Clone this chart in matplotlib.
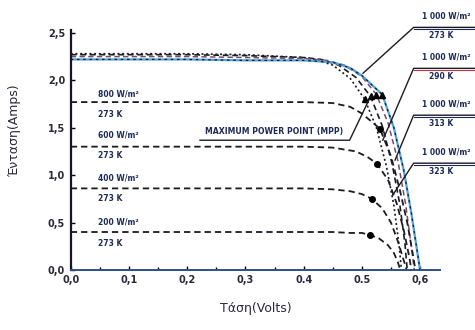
import matplotlib.pyplot as plt

# I-V curves, 1000 W/m2 at different temperatures
v_1000_273 = [0.0, 0.1, 0.2, 0.3, 0.4, 0.45, 0.48, 0.50, 0.535, 0.555, 0.572, 0.585, 0.595, 0.600]
i_1000_273 = [2.22, 2.22, 2.22, 2.21, 2.21, 2.19, 2.13, 2.05, 1.85, 1.50, 1.05, 0.60, 0.20, 0.0]
v_1000_290 = [0.0, 0.1, 0.2, 0.3, 0.4, 0.44, 0.47, 0.50, 0.525, 0.545, 0.562, 0.575, 0.585, 0.590]
i_1000_290 = [2.25, 2.25, 2.25, 2.24, 2.23, 2.21, 2.16, 2.04, 1.85, 1.55, 1.15, 0.70, 0.25, 0.0]
v_1000_313 = [0.0, 0.1, 0.2, 0.3, 0.4, 0.43, 0.46, 0.49, 0.515, 0.535, 0.552, 0.565, 0.574, 0.578]
i_1000_313 = [2.27, 2.27, 2.27, 2.26, 2.24, 2.22, 2.16, 2.03, 1.83, 1.52, 1.12, 0.70, 0.28, 0.0]
v_1000_323 = [0.0, 0.1, 0.2, 0.3, 0.4, 0.42, 0.45, 0.48, 0.505, 0.525, 0.542, 0.555, 0.564, 0.568]
i_1000_323 = [2.28, 2.28, 2.28, 2.27, 2.24, 2.22, 2.16, 2.02, 1.80, 1.50, 1.10, 0.68, 0.26, 0.0]

# I-V curves at 273 K, lower irradiance
v_800 = [0.0, 0.1, 0.2, 0.3, 0.4, 0.45, 0.48, 0.50, 0.531, 0.55, 0.565, 0.578, 0.588, 0.592]
i_800 = [1.77, 1.77, 1.77, 1.77, 1.77, 1.76, 1.72, 1.65, 1.49, 1.20, 0.85, 0.50, 0.15, 0.0]
v_600 = [0.0, 0.1, 0.2, 0.3, 0.4, 0.45, 0.49, 0.51, 0.526, 0.545, 0.56, 0.572, 0.582, 0.585]
i_600 = [1.30, 1.30, 1.30, 1.30, 1.30, 1.29, 1.25, 1.19, 1.12, 0.95, 0.70, 0.42, 0.12, 0.0]
v_400 = [0.0, 0.1, 0.2, 0.3, 0.4, 0.45, 0.48, 0.50, 0.517, 0.535, 0.55, 0.562, 0.572, 0.577]
i_400 = [0.86, 0.86, 0.86, 0.86, 0.86, 0.85, 0.83, 0.80, 0.75, 0.65, 0.50, 0.30, 0.10, 0.0]
v_200 = [0.0, 0.1, 0.2, 0.3, 0.4, 0.45, 0.48, 0.50, 0.514, 0.53, 0.545, 0.555, 0.562, 0.566]
i_200 = [0.40, 0.40, 0.40, 0.40, 0.40, 0.40, 0.39, 0.39, 0.37, 0.33, 0.26, 0.18, 0.08, 0.0]

# maximum power points
mpp_v_low = [0.531, 0.526, 0.517, 0.514]
mpp_i_low = [1.49, 1.12, 0.75, 0.37]
mpp_v_1000 = [0.535, 0.525, 0.515, 0.505]
mpp_i_1000 = [1.85, 1.85, 1.83, 1.80]

low_labels = ['800 W/m²', '600 W/m²', '400 W/m²', '200 W/m²']
low_label_y = [(1.86, 1.64), (1.42, 1.21), (0.97, 0.75), (0.505, 0.284)]

box_temps = ['273 K', '290 K', '313 K', '323 K']
box_line_y = [2.558, 2.126, 1.632, 1.126]
box_target = [(0.502, 2.074), (0.536, 1.368), (0.557, 1.158), (0.553, 0.789)]
box_colors = ['#1d2b5a', '#b8323a', '#1d2b5a', '#1d2b5a']

xticks = [0.0, 0.1, 0.2, 0.3, 0.4, 0.5, 0.6]
xticklabels = ['0,0', '0,1', '0,2', '0,3', '0.4', '0.5', '0,6']
yticks = [0.0, 0.5, 1.0, 1.5, 2.0, 2.5]
yticklabels = ['0,0', '0,5', '1,0', '1,5', '2,0', '2,5']

fig = plt.figure(figsize=(4.75, 3.3), dpi=100)
ax = fig.add_axes([0.149, 0.182, 0.777, 0.727])

dk = '#1b1b24'
dash = (0, (3.5, 2.2))

# 1000 W/m2 family
ax.plot(v_1000_323, i_1000_323, color=dk, lw=1.2, ls=(0, (1.2, 1.6)))
ax.plot(v_1000_313, i_1000_313, color=dk, lw=1.2, ls=dash)
ax.plot(v_1000_290, i_1000_290, color='#7a4a6a', lw=1.1, ls=dash)
ax.plot(v_1000_273, i_1000_273, color='#4fa3df', lw=1.6)
ax.plot(v_1000_273, i_1000_273, color=dk, lw=0.9, ls=(0, (2, 3)))

# lower irradiance
for v, i in [(v_800, i_800), (v_600, i_600), (v_400, i_400), (v_200, i_200)]:
    ax.plot(v, i, color=dk, lw=1.3, ls=dash)

ax.plot(mpp_v_low, mpp_i_low, 'o', color='black', ms=4)
ax.plot(mpp_v_1000, mpp_i_1000, '^', color='black', ms=4)

# MPP label
ax.text(0.350, 1.46, 'MAXIMUM POWER POINT (MPP)', fontsize=5.6, fontweight='bold',
        ha='center', va='center', color='#1d2b5a')
ax.plot([0.222, 0.479, 0.515], [1.368, 1.368, 1.83], color=dk, lw=1.0, clip_on=False)

# labels of the lower curves
for lab, (y1, y2) in zip(low_labels, low_label_y):
    ax.text(0.046, y1, lab, fontsize=5.5, fontweight='bold', va='center', color='#1d2b5a')
    ax.text(0.046, y2, '273 K', fontsize=5.5, fontweight='bold', va='center', color='#1d2b5a')

# 1000 W/m2 label boxes
for t, y, (tx, ty), c in zip(box_temps, box_line_y, box_target, box_colors):
    ax.plot([tx, 0.589, 0.70], [ty, y, y], color=dk, lw=1.0, clip_on=False)
    ax.plot([0.589, 0.70], [y - 0.015, y - 0.015], color=c, lw=0.8, clip_on=False)
    ax.text(0.645, y + 0.115, '1 000 W/m²', fontsize=5.5, fontweight='bold',
            ha='center', va='center', color='#1d2b5a', clip_on=False)
    ax.text(0.636, y - 0.085, t, fontsize=5.5, fontweight='bold',
            ha='center', va='center', color='#1d2b5a', clip_on=False)

ax.set_xlim(0, 0.634)
ax.set_ylim(0, 2.53)
ax.set_xticks(xticks)
ax.set_xticklabels(xticklabels, fontsize=7, fontweight='bold', color='#2a2a3a')
ax.set_xticks([0.05, 0.15, 0.25, 0.35, 0.45, 0.55], minor=True)
ax.set_yticks(yticks)
ax.set_yticklabels(yticklabels, fontsize=7, fontweight='bold', color='#2a2a3a')
ax.tick_params(direction='in', length=3, width=1, pad=4)
ax.tick_params(which='minor', direction='in', length=2, width=1)

for s in ['top', 'right']:
    ax.spines[s].set_visible(False)
ax.spines['left'].set_linewidth(1.6)
ax.spines['left'].set_color('#15151f')
ax.spines['bottom'].set_linewidth(1.4)
ax.spines['bottom'].set_color('#2e4f8a')

ax.set_xlabel('Τάση(Volts)', fontsize=9, color='#2a2a3a', labelpad=12)
ax.set_ylabel('Ένταση(Amps)', fontsize=9, color='#2a2a3a')
ax.yaxis.set_label_coords(-0.135, 0.58)

fig.savefig('out.png', dpi=100)
